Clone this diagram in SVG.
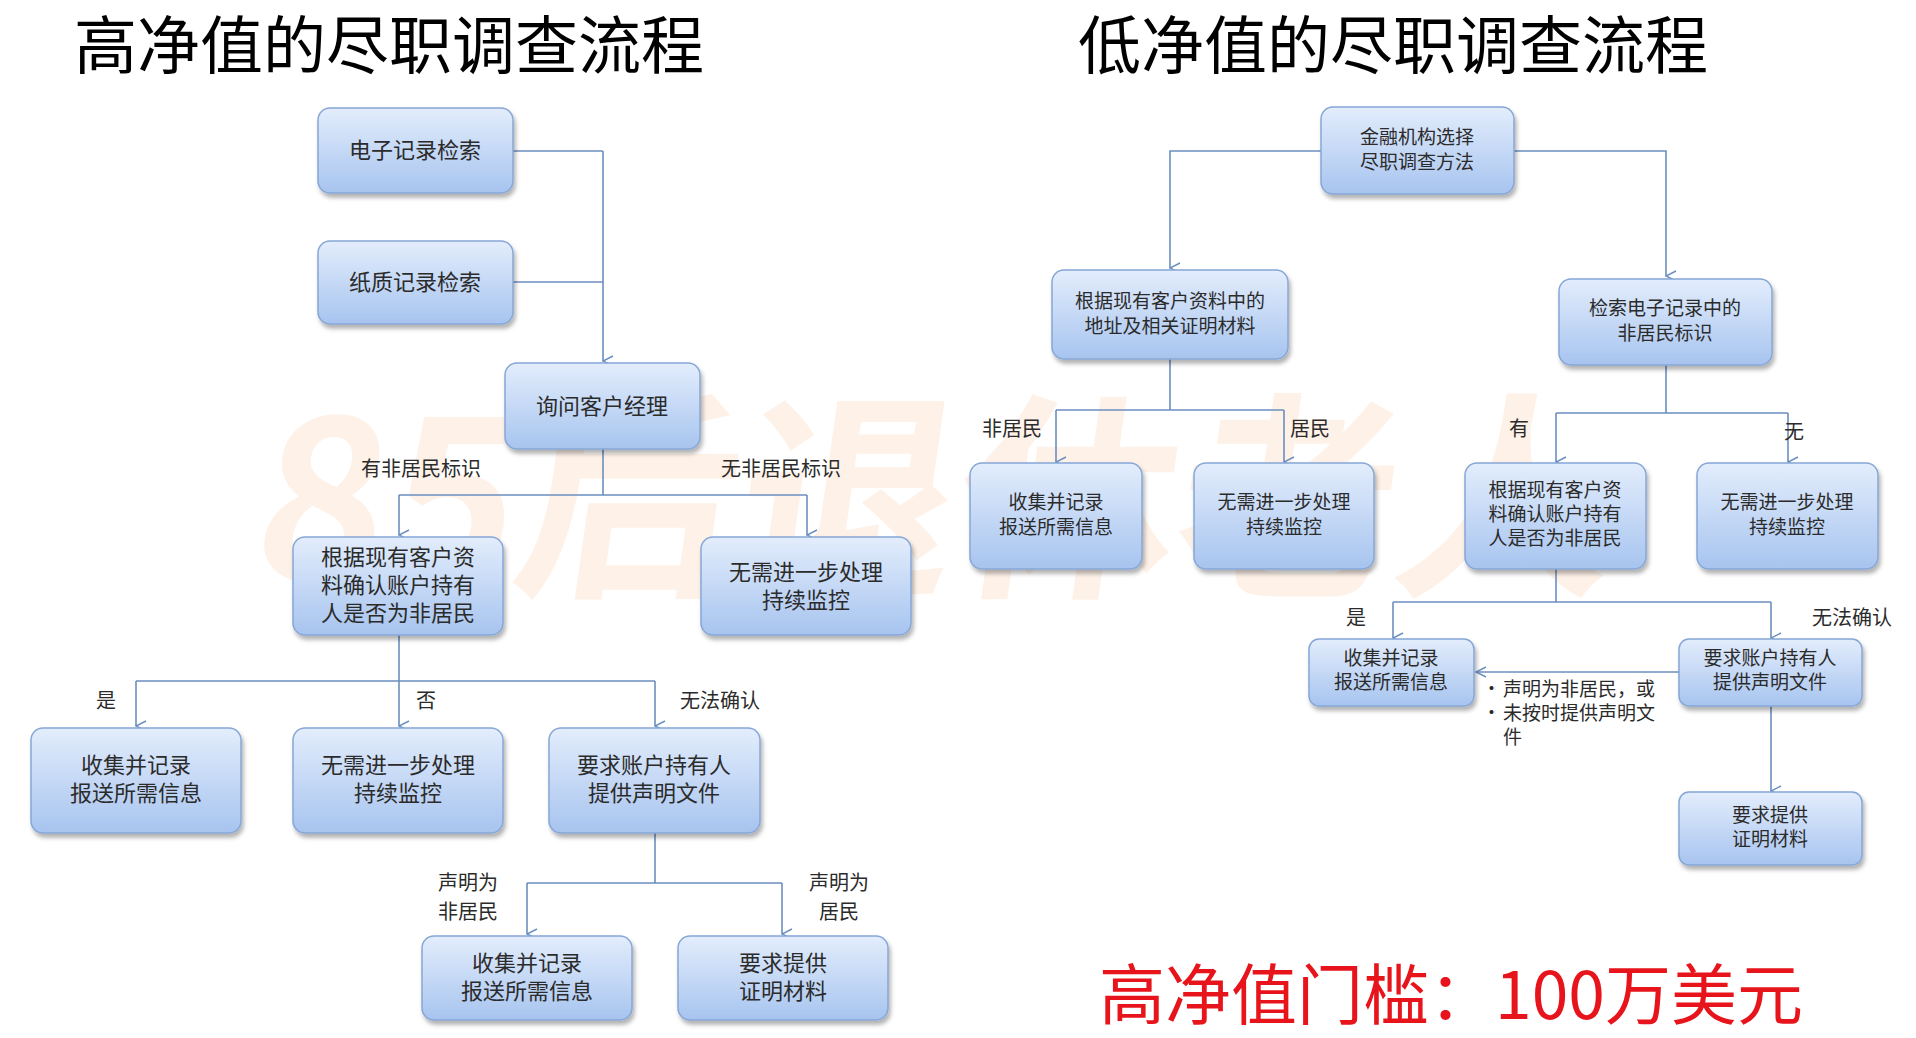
<svg xmlns="http://www.w3.org/2000/svg" width="1916" height="1038" viewBox="0 0 1916 1038">
<defs>
<linearGradient id="g" x1="0" y1="0" x2="0" y2="1"><stop offset="0" stop-color="#e3edfc"/><stop offset="1" stop-color="#a7c4ef"/></linearGradient>
<filter id="s" x="-10%" y="-10%" width="130%" height="140%"><feDropShadow dx="2" dy="4" stdDeviation="2" flood-color="#000" flood-opacity="0.3"/></filter>
<marker id="a" viewBox="0 0 12 12" refX="6" refY="11" markerWidth="12" markerHeight="12" markerUnits="userSpaceOnUse" orient="auto"><path d="M1,1 L6,11 L11,1" fill="none" stroke="#6b8fbf" stroke-width="1.5"/></marker>
<marker id="al" viewBox="0 0 12 12" refX="11" refY="6" markerWidth="12" markerHeight="12" markerUnits="userSpaceOnUse" orient="auto"><path d="M1,1 L11,6 L1,11" fill="none" stroke="#6b8fbf" stroke-width="1.5"/></marker>
</defs>
<style>
.n{fill:url(#g);stroke:#86a7d6;stroke-width:1.5;filter:url(#s)}
.t{font-family:"Noto Sans CJK SC","Noto Sans",sans-serif;fill:#2b2b2b;text-anchor:middle}
.l{font-size:22px}.r{font-size:19px}
.c{fill:none;stroke:#6b8fbf;stroke-width:1.6}
.lb{font-family:"Noto Sans CJK SC",sans-serif;fill:#2b2b2b;font-size:20px;text-anchor:middle}
.h{font-family:"Noto Sans CJK SC",sans-serif;fill:#000;font-size:63px}
</style>
<rect width="1916" height="1038" fill="#fff"/>
<text x="330" y="580" font-family="Noto Sans CJK SC,sans-serif" font-size="220" font-weight="bold" fill="#fbd3b4" opacity="0.3" transform="skewX(-8)">85后退休老人</text>
<text class="h" x="74" y="68">高净值的尽职调查流程</text>
<text class="h" x="1078" y="68">低净值的尽职调查流程</text>
<g id="connectors">
<path class="c" d="M513,151 H603 M513,282 H603 M603,151 V361" marker-end="url(#a)"/>
<path class="c" d="M603,449 V495 M399,495 H807"/>
<path class="c" d="M399,495 V535" marker-end="url(#a)"/>
<path class="c" d="M807,495 V535" marker-end="url(#a)"/>
<path class="c" d="M399,635 V681 M136,681 H655"/>
<path class="c" d="M136,681 V726" marker-end="url(#a)"/>
<path class="c" d="M399,681 V726" marker-end="url(#a)"/>
<path class="c" d="M655,681 V726" marker-end="url(#a)"/>
<path class="c" d="M655,833 V883 M527,883 H782"/>
<path class="c" d="M527,883 V934" marker-end="url(#a)"/>
<path class="c" d="M782,883 V934" marker-end="url(#a)"/>
<path class="c" d="M1321,151 H1170 V268" marker-end="url(#a)"/>
<path class="c" d="M1514,151 H1666 V276" marker-end="url(#a)"/>
<path class="c" d="M1170,359 V410 M1056,410 H1284"/>
<path class="c" d="M1056,410 V462" marker-end="url(#a)"/>
<path class="c" d="M1284,410 V462" marker-end="url(#a)"/>
<path class="c" d="M1666,365 V413 M1556,413 H1788"/>
<path class="c" d="M1556,413 V462" marker-end="url(#a)"/>
<path class="c" d="M1788,413 V462" marker-end="url(#a)"/>
<path class="c" d="M1556,569 V602 M1393,602 H1771"/>
<path class="c" d="M1393,602 V638" marker-end="url(#a)"/>
<path class="c" d="M1771,602 V638" marker-end="url(#a)"/>
<path class="c" d="M1679,672 H1476" marker-end="url(#al)"/>
<path class="c" d="M1771,706 V791" marker-end="url(#a)"/>
</g>
<g id="labels">
<text class="lb" x="421" y="476">有非居民标识</text>
<text class="lb" x="781" y="476">无非居民标识</text>
<text class="lb" x="106" y="708">是</text>
<text class="lb" x="426" y="708">否</text>
<text class="lb" x="720" y="708">无法确认</text>
<text class="lb" x="468" y="890">声明为</text>
<text class="lb" x="468" y="919">非居民</text>
<text class="lb" x="839" y="890">声明为</text>
<text class="lb" x="839" y="919">居民</text>
<text class="lb" x="1012" y="436" font-size="19">非居民</text>
<text class="lb" x="1310" y="436" font-size="19">居民</text>
<text class="lb" x="1519" y="436" font-size="19">有</text>
<text class="lb" x="1794" y="439" font-size="19">无</text>
<text class="lb" x="1356" y="625" font-size="19">是</text>
<text class="lb" x="1852" y="625" font-size="19">无法确认</text>
<g font-family="Noto Sans CJK SC,sans-serif" font-size="19" fill="#2b2b2b">
<text x="1482" y="696">•</text><text x="1503" y="696">声明为非居民，或</text>
<text x="1482" y="720">•</text><text x="1503" y="720">未按时提供声明文</text>
<text x="1503" y="744">件</text>
</g>
</g>
<g id="n1"><rect class="n" x="318" y="108" width="195" height="85" rx="12"/><text class="t l" x="415" y="158">电子记录检索</text></g>
<g id="n2"><rect class="n" x="318" y="241" width="195" height="83" rx="12"/><text class="t l" x="415" y="290">纸质记录检索</text></g>
<g id="n3"><rect class="n" x="505" y="363" width="195" height="86" rx="12"/><text class="t l" x="602" y="414">询问客户经理</text></g>
<g id="n4"><rect class="n" x="293" y="537" width="210" height="98" rx="12"/><text class="t l" x="398" y="565">根据现有客户资</text><text class="t l" x="398" y="593">料确认账户持有</text><text class="t l" x="398" y="621">人是否为非居民</text></g>
<g id="n5"><rect class="n" x="701" y="537" width="210" height="98" rx="12"/><text class="t l" x="806" y="580">无需进一步处理</text><text class="t l" x="806" y="608">持续监控</text></g>
<g id="n6"><rect class="n" x="31" y="728" width="210" height="105" rx="12"/><text class="t l" x="136" y="773">收集并记录</text><text class="t l" x="136" y="801">报送所需信息</text></g>
<g id="n7"><rect class="n" x="293" y="728" width="210" height="105" rx="12"/><text class="t l" x="398" y="773">无需进一步处理</text><text class="t l" x="398" y="801">持续监控</text></g>
<g id="n8"><rect class="n" x="549" y="728" width="211" height="105" rx="12"/><text class="t l" x="654" y="773">要求账户持有人</text><text class="t l" x="654" y="801">提供声明文件</text></g>
<g id="n9"><rect class="n" x="422" y="936" width="210" height="84" rx="12"/><text class="t l" x="527" y="971">收集并记录</text><text class="t l" x="527" y="999">报送所需信息</text></g>
<g id="n10"><rect class="n" x="678" y="936" width="210" height="84" rx="12"/><text class="t l" x="783" y="971">要求提供</text><text class="t l" x="783" y="999">证明材料</text></g>
<g id="m1"><rect class="n" x="1321" y="107" width="193" height="87" rx="12"/><text class="t r" x="1417" y="144">金融机构选择</text><text class="t r" x="1417" y="169">尽职调查方法</text></g>
<g id="m2"><rect class="n" x="1052" y="270" width="236" height="89" rx="12"/><text class="t r" x="1170" y="308">根据现有客户资料中的</text><text class="t r" x="1170" y="333">地址及相关证明材料</text></g>
<g id="m3"><rect class="n" x="1559" y="279" width="213" height="86" rx="12"/><text class="t r" x="1665" y="315">检索电子记录中的</text><text class="t r" x="1665" y="340">非居民标识</text></g>
<g id="m4"><rect class="n" x="970" y="463" width="172" height="106" rx="12"/><text class="t r" x="1056" y="509">收集并记录</text><text class="t r" x="1056" y="534">报送所需信息</text></g>
<g id="m5"><rect class="n" x="1194" y="463" width="180" height="106" rx="12"/><text class="t r" x="1284" y="509">无需进一步处理</text><text class="t r" x="1284" y="534">持续监控</text></g>
<g id="m6"><rect class="n" x="1465" y="463" width="181" height="106" rx="12"/><text class="t r" x="1555" y="497">根据现有客户资</text><text class="t r" x="1555" y="521">料确认账户持有</text><text class="t r" x="1555" y="545">人是否为非居民</text></g>
<g id="m7"><rect class="n" x="1697" y="463" width="181" height="106" rx="12"/><text class="t r" x="1787" y="509">无需进一步处理</text><text class="t r" x="1787" y="534">持续监控</text></g>
<g id="m8"><rect class="n" x="1309" y="639" width="165" height="67" rx="10"/><text class="t r" x="1391" y="665">收集并记录</text><text class="t r" x="1391" y="689">报送所需信息</text></g>
<g id="m9"><rect class="n" x="1679" y="639" width="183" height="67" rx="10"/><text class="t r" x="1770" y="665">要求账户持有人</text><text class="t r" x="1770" y="689">提供声明文件</text></g>
<g id="m10"><rect class="n" x="1679" y="792" width="183" height="73" rx="10"/><text class="t r" x="1770" y="822">要求提供</text><text class="t r" x="1770" y="846">证明材料</text></g>
<text x="1099" y="1019" font-family="Noto Sans CJK SC,sans-serif" font-size="66" fill="#e8141b">高净值门槛：100万美元</text>
</svg>
